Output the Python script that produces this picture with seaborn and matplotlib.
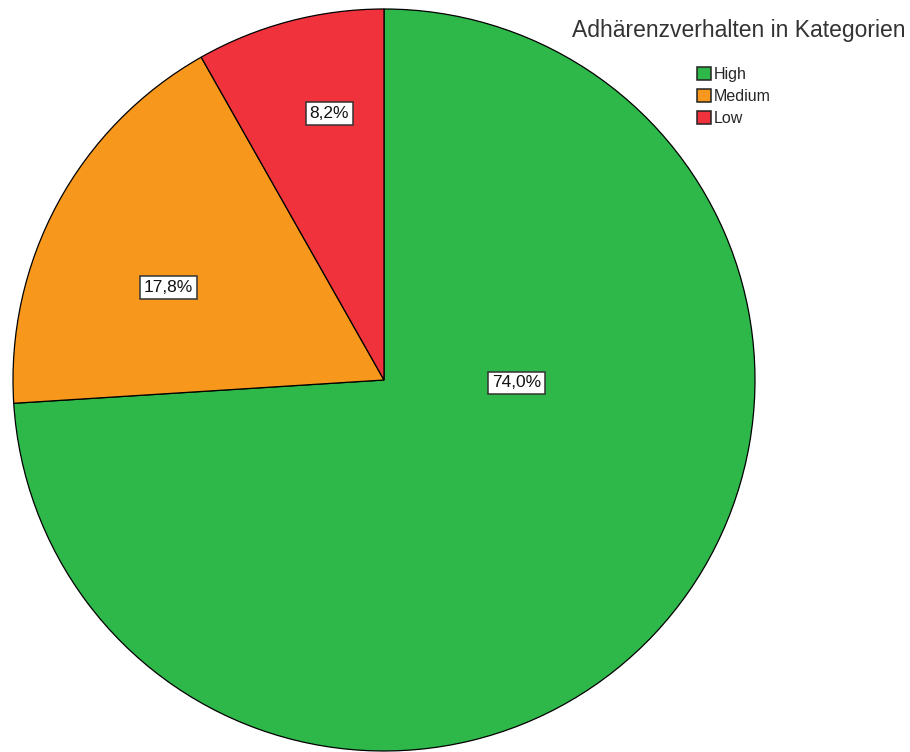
import matplotlib
matplotlib.use("Agg")
import matplotlib.pyplot as plt
from matplotlib.patches import Patch
import seaborn as sns

# Adherence categories and their shares (percent)
categories = ["High", "Medium", "Low"]
shares = [74.0, 17.8, 8.2]
value_labels = ["74,0%", "17,8%", "8,2%"]
colors = ["#2fb84a", "#f7981d", "#ef323c"]
title = "Adhärenzverhalten in Kategorien"

sns.set_theme(style="white")
plt.rcParams["font.family"] = ["Liberation Sans", "DejaVu Sans"]

W, H = 910, 752
fig = plt.figure(figsize=(W / 100, H / 100), dpi=100)
fig.patch.set_facecolor("white")

# Pie axes: circle centred at (384, 380) px with radius ~370 px
cx, cy, r = 384, 380, 371
ax = fig.add_axes([(cx - r) / W, (H - cy - r) / H, 2 * r / W, 2 * r / H])
wedges, _ = ax.pie(
    shares,
    colors=colors,
    startangle=90,
    counterclock=False,
    radius=1.0,
    wedgeprops=dict(edgecolor="black", linewidth=0.9),
)
ax.set_xlim(-1.0, 1.0)
ax.set_ylim(-1.0, 1.0)
ax.set_aspect("equal")
ax.axis("off")

# Percent labels inside boxed text
label_pos = [(0.357, -0.008), (-0.581, 0.249), (-0.148, 0.719)]
for txt, (x, y) in zip(value_labels, label_pos):
    ax.text(x, y, txt, ha="center", va="center", fontsize=12.5, color="#111111",
            bbox=dict(boxstyle="square,pad=0.22", facecolor="white",
                      edgecolor="#333333", linewidth=1.1))

fig.text(905 / W, 1 - 30 / H, title, ha="right", va="center",
         fontsize=16.5, color="#333333")

handles = [Patch(facecolor=c, edgecolor="#222222", linewidth=1.1) for c in colors]
fig.legend(handles, categories, loc="upper left",
           bbox_to_anchor=(697 / W, 1 - 67 / H), frameon=False,
           fontsize=11.5, handlelength=0.9, handleheight=0.9,
           handletextpad=0.15, labelspacing=0.42, borderpad=0.0,
           borderaxespad=0.0)

fig.savefig("out.png", dpi=100, facecolor="white")
